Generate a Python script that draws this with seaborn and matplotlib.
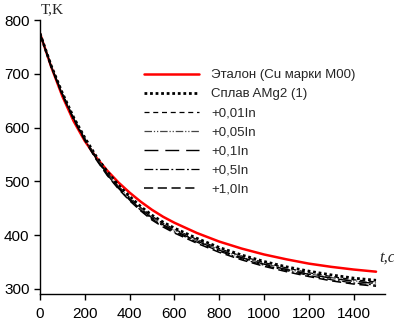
import numpy as np
import pandas as pd
import matplotlib
matplotlib.use("Agg")
import matplotlib.pyplot as plt
import seaborn as sns

# -----------------------------
# data
# -----------------------------
t = [0, 50, 100, 150, 200, 250, 300, 350, 400, 450, 500, 550, 600,
     700, 800, 900, 1000, 1100, 1200, 1300, 1400, 1500]

etalon = [775, 713, 658, 612, 575, 545, 520, 498, 479, 462, 447, 434, 423,
          404, 388, 375, 364, 355, 347, 341, 336, 332]
amg2 = [775, 715, 664, 619, 581, 547, 518, 493, 472, 453, 437, 424, 413,
        394, 377, 363, 351, 341, 333, 326, 320, 316]
in_001 = [775, 714, 663, 618, 580, 545, 516, 491, 470, 451, 435, 422, 411,
          392, 375, 361, 349, 339, 330, 323, 317, 313]
in_005 = [775, 714, 662, 617, 579, 544, 515, 490, 468, 449, 433, 420, 409,
          390, 373, 359, 347, 337, 328, 321, 315, 311]
in_01 = [775, 714, 662, 617, 578, 543, 514, 489, 467, 448, 432, 419, 408,
         389, 372, 358, 346, 336, 327, 320, 314, 310]
in_05 = [775, 713, 661, 616, 577, 542, 512, 487, 465, 446, 430, 417, 406,
         387, 370, 356, 344, 334, 325, 317, 311, 307]
in_10 = [775, 713, 660, 615, 576, 541, 511, 486, 464, 445, 428, 415, 404,
         385, 368, 354, 342, 332, 323, 315, 309, 305]

labels = ["Эталон (Cu марки М00)", "Сплав AMg2 (1)", "+0,01In", "+0,05In",
          "+0,1In", "+0,5In", "+1,0In"]
series = [etalon, amg2, in_001, in_005, in_01, in_05, in_10]

# style of each line
colors = ["#ff0000", "black", "black", "#444444", "black", "black", "black"]
widths = [1.8, 2.0, 0.9, 0.9, 1.0, 0.9, 1.1]
dashes = ["-", (0, (1, 1)), (0, (4, 3)), (0, (6, 1.5, 1, 1.5, 1, 1.5)),
          (0, (10, 5)), (0, (7, 2, 1.5, 2)), (0, (6, 3))]

# -----------------------------
# plot
# -----------------------------
sns.set_style("ticks")
plt.rcParams["font.family"] = ["Liberation Sans", "DejaVu Sans"]

fig = plt.figure(figsize=(3.94, 3.23), dpi=100)
ax = fig.add_axes([40 / 394, 29 / 323, 345 / 394, 274 / 323])

for vals, lab, c, lw, ls in zip(series, labels, colors, widths, dashes):
    df = pd.DataFrame({"t": t, "T": vals})
    sns.lineplot(data=df, x="t", y="T", ax=ax, color=c, lw=lw, linestyle=ls, label=lab)

ax.set_xlim(0, 1540)
ax.set_ylim(290.5, 800)
ax.set_xticks(range(0, 1401, 200))
ax.set_yticks(range(300, 801, 100))
ax.set_xlabel("")
ax.set_ylabel("")
ax.tick_params(labelsize=11, length=4, width=1, colors="black", direction="out")
ax.tick_params(axis="x", pad=5)
for s in ["left", "bottom"]:
    ax.spines[s].set_color("black")
    ax.spines[s].set_linewidth(1)
sns.despine(ax=ax)

fig.text(41 / 394, 1 - 10 / 323, "T,K", family="Liberation Serif", fontsize=11,
         va="center", ha="left")
fig.text(379 / 394, 1 - 258 / 323, "t,c", family="Liberation Serif", style="italic",
         fontsize=12, va="center", ha="left")

ax.legend(frameon=False, fontsize=9.5, handlelength=4.2, handletextpad=0.9,
          labelspacing=0.52, borderpad=0, borderaxespad=0,
          loc="upper left", bbox_to_anchor=(144 / 394, 1 - 69 / 323),
          bbox_transform=fig.transFigure)

fig.savefig("out.png", dpi=100)
